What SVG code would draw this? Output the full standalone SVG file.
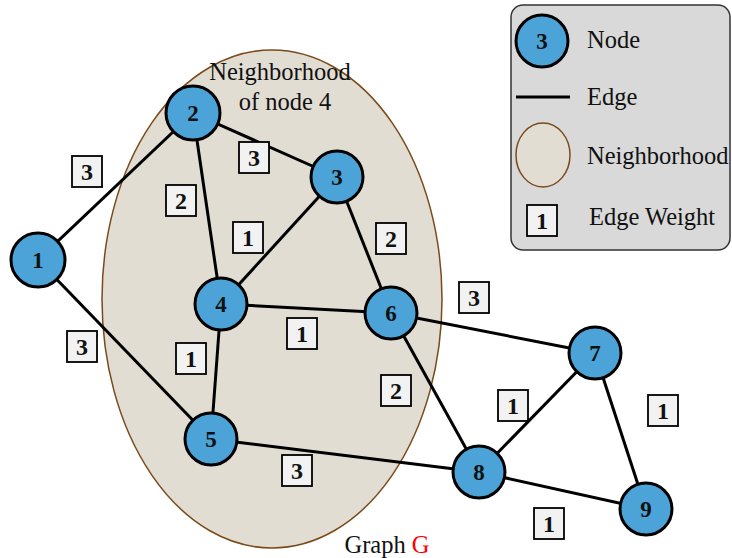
<svg xmlns="http://www.w3.org/2000/svg" width="732" height="558" viewBox="0 0 732 558">
<style>
.edge{stroke:#000;stroke-width:3;fill:none}
.node{fill:#4ba3d8;stroke:#000;stroke-width:3}
.nl{font-family:"Liberation Serif",serif;font-weight:bold;font-size:23px;text-anchor:middle;fill:#111}
.wb{fill:#f2f2f2;stroke:#000;stroke-width:1.8}
.wt{font-family:"Liberation Serif",serif;font-weight:bold;font-size:24px;text-anchor:middle;fill:#111}
.t{font-family:"Liberation Serif",serif;font-size:24.5px;fill:#111}
</style>
<rect width="732" height="558" fill="#fff"/>
<g id="neighborhood">
<ellipse cx="272" cy="299" rx="170" ry="249" fill="#e2ddd3" stroke="#7a4a1a" stroke-width="1.5"/>
<text class="t" x="280" y="80" text-anchor="middle">Neighborhood</text>
<text class="t" x="285" y="110" text-anchor="middle">of node 4</text>
</g>
<g id="edges">
<line class="edge" x1="38" y1="260" x2="193" y2="113"/>
<line class="edge" x1="38" y1="260" x2="211" y2="439"/>
<line class="edge" x1="193" y1="113" x2="337" y2="177"/>
<line class="edge" x1="193" y1="113" x2="221" y2="304"/>
<line class="edge" x1="337" y1="177" x2="221" y2="304"/>
<line class="edge" x1="337" y1="177" x2="391" y2="313"/>
<line class="edge" x1="221" y1="304" x2="391" y2="313"/>
<line class="edge" x1="221" y1="304" x2="211" y2="439"/>
<line class="edge" x1="391" y1="313" x2="595" y2="353"/>
<line class="edge" x1="391" y1="313" x2="479" y2="472"/>
<line class="edge" x1="211" y1="439" x2="479" y2="472"/>
<line class="edge" x1="595" y1="353" x2="479" y2="472"/>
<line class="edge" x1="595" y1="353" x2="646" y2="509"/>
<line class="edge" x1="479" y1="472" x2="646" y2="509"/>
</g>
<g id="weights">
<rect class="wb" x="72" y="156" width="30" height="31"/><text class="wt" x="87" y="180">3</text>
<rect class="wb" x="239" y="142" width="30" height="31"/><text class="wt" x="254" y="166">3</text>
<rect class="wb" x="166" y="185" width="30" height="31"/><text class="wt" x="181" y="209">2</text>
<rect class="wb" x="233" y="222" width="30" height="31"/><text class="wt" x="248" y="246">1</text>
<rect class="wb" x="376" y="223" width="30" height="31"/><text class="wt" x="391" y="247">2</text>
<rect class="wb" x="459" y="282" width="30" height="31"/><text class="wt" x="474" y="306">3</text>
<rect class="wb" x="287" y="318" width="30" height="31"/><text class="wt" x="302" y="342">1</text>
<rect class="wb" x="67" y="331" width="30" height="31"/><text class="wt" x="82" y="355">3</text>
<rect class="wb" x="176" y="343" width="30" height="31"/><text class="wt" x="191" y="367">1</text>
<rect class="wb" x="381" y="375" width="30" height="31"/><text class="wt" x="396" y="399">2</text>
<rect class="wb" x="498" y="390" width="30" height="31"/><text class="wt" x="513" y="414">1</text>
<rect class="wb" x="648" y="395" width="30" height="31"/><text class="wt" x="663" y="419">1</text>
<rect class="wb" x="282" y="455" width="30" height="31"/><text class="wt" x="297" y="479">3</text>
<rect class="wb" x="534" y="508" width="30" height="31"/><text class="wt" x="549" y="532">1</text>
</g>
<g id="node1"><circle class="node" cx="38" cy="260" r="27"/><text class="nl" x="38" y="268">1</text></g>
<g id="node2"><circle class="node" cx="193" cy="113" r="27"/><text class="nl" x="193" y="121">2</text></g>
<g id="node3"><circle class="node" cx="337" cy="177" r="26"/><text class="nl" x="337" y="185">3</text></g>
<g id="node4"><circle class="node" cx="221" cy="304" r="26"/><text class="nl" x="221" y="312">4</text></g>
<g id="node5"><circle class="node" cx="211" cy="439" r="26"/><text class="nl" x="211" y="447">5</text></g>
<g id="node6"><circle class="node" cx="391" cy="313" r="26"/><text class="nl" x="391" y="321">6</text></g>
<g id="node7"><circle class="node" cx="595" cy="353" r="26"/><text class="nl" x="595" y="361">7</text></g>
<g id="node8"><circle class="node" cx="479" cy="472" r="26"/><text class="nl" x="479" y="480">8</text></g>
<g id="node9"><circle class="node" cx="646" cy="509" r="26"/><text class="nl" x="646" y="517">9</text></g>
<g id="caption"><text class="t" x="387" y="553" text-anchor="middle">Graph <tspan fill="#ff0000">G</tspan></text></g>
<g id="legend">
<rect x="511" y="5" width="219" height="245" rx="12" fill="#d9d9d9" stroke="#333" stroke-width="1.5"/>
<circle class="node" cx="542" cy="41" r="26"/><text class="nl" x="542" y="49">3</text>
<text class="t" x="587" y="48">Node</text>
<line class="edge" x1="516" y1="97" x2="570" y2="97"/>
<text class="t" x="587" y="105">Edge</text>
<ellipse cx="543" cy="155" rx="27" ry="32" fill="#e2ddd3" stroke="#7a4a1a" stroke-width="1.5"/>
<text class="t" x="587" y="164">Neighborhood</text>
<rect class="wb" x="527" y="205" width="30" height="31"/><text class="wt" x="542" y="229">1</text>
<text class="t" x="589" y="225">Edge Weight</text>
</g>
</svg>
